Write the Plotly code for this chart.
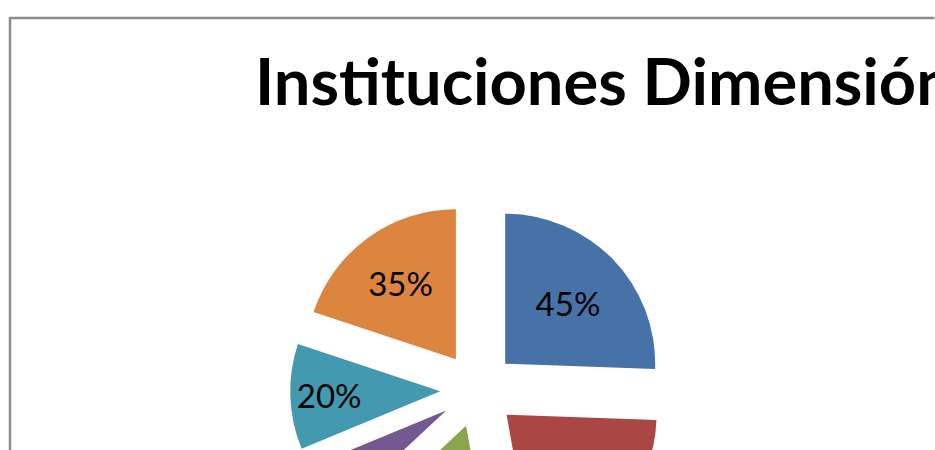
"""Pie chart - Instituciones Dimension, exploded slices (Excel style)."""

import plotly.graph_objects as go

# data
CATEGORIES = ["A", "B", "C", "D", "E", "F"]
VALUES = [45, 38, 28, 10, 20, 35]
# only the labels that are visible in the frame
LABELS = ["45%", "", "", "", "20%", "35%"]
TITLE = "Instituciones Dimensión"

# styling
SLICE_COLORS = ["#4672A7", "#AA4644", "#8AA54E", "#725990", "#4399B0", "#DC853E"]
FIG_W = 1000
FIG_H = 620
PULL = 0.252
BORDER_COLOR = "#8C8C8C"
FONT = "Lato"


def _px_x(px: float) -> float:
    return px / FIG_W


def _px_y(px: float) -> float:
    # page pixels from top -> paper fraction from bottom
    return 1 - px / FIG_H


def create_figure() -> go.Figure:
    fig = go.Figure()

    # pie box: centre (478, 390), radius 150 -> half box = r * (1 + pull)
    cx, cy, r = 478.0, 390.0, 150.0
    half = r * (1 + PULL)

    fig.add_trace(
        go.Pie(
            labels=CATEGORIES,
            values=VALUES,
            text=LABELS,
            textinfo="text",
            textposition="inside",
            insidetextorientation="horizontal",
            textfont=dict(family=FONT, size=33, color="black"),
            marker=dict(colors=SLICE_COLORS, line=dict(width=0)),
            pull=[PULL] * len(VALUES),
            sort=False,
            direction="clockwise",
            rotation=0,
            hoverinfo="label+value",
            domain=dict(
                x=[_px_x(cx - half), _px_x(cx + half)],
                y=[_px_y(cy + half), _px_y(cy - half)],
            ),
        )
    )

    # chart area frame
    fig.add_shape(
        type="rect",
        xref="paper",
        yref="paper",
        x0=_px_x(10),
        x1=1.2,
        y0=-0.2,
        y1=_px_y(18),
        line=dict(color=BORDER_COLOR, width=2.5),
        fillcolor="rgba(0,0,0,0)",
    )

    fig.update_layout(
        width=FIG_W,
        height=FIG_H,
        margin=dict(l=0, r=0, t=0, b=0, pad=0),
        paper_bgcolor="white",
        plot_bgcolor="white",
        showlegend=False,
        title=dict(
            text=f"<b>{TITLE}</b>",
            x=_px_x(255),
            xref="container",
            xanchor="left",
            y=_px_y(82),
            yref="container",
            yanchor="middle",
            font=dict(family=FONT, size=65, color="black"),
        ),
    )
    return fig


fig = create_figure()
fig.write_html(
    "out.html",
    post_script=(
        "document.body.style.margin='0';"
        "document.documentElement.style.overflow='hidden';"
        "document.body.style.overflow='hidden';"
    ),
)
